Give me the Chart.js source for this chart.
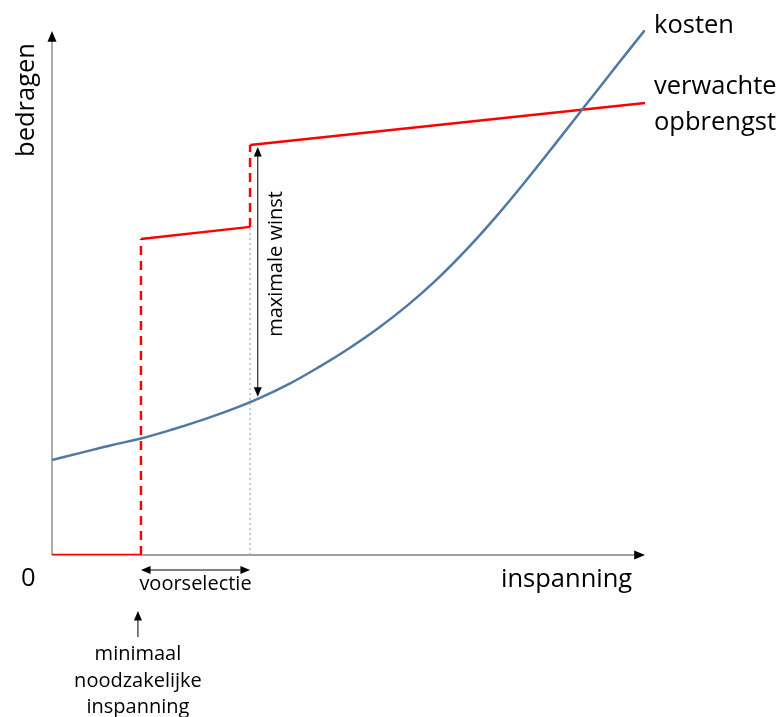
<!DOCTYPE html>
<html>
<head>
<meta charset="utf-8">
<script src="https://cdn.jsdelivr.net/npm/chart.js@4/dist/chart.umd.min.js"></script>
<style>
  html, body { margin: 0; padding: 0; background: #fff; }
  #wrap { width: 781px; height: 717px; }
</style>
</head>
<body>
<div id="wrap"><canvas id="chart"></canvas></div>
<script>
// kosten curve (effort -> cost)
const kostenX = [0, 5, 10, 15, 20, 25, 30, 35, 40, 45, 50, 55, 60, 65, 70, 75, 80, 85, 90, 95, 100];
const kostenY = [18.1, 19.5, 20.9, 22.2, 23.8, 25.6, 27.6, 29.9, 32.6, 35.8, 39.3, 43.2, 47.6, 52.6, 58.3, 64.6, 71.4, 78.5, 85.7, 92.9, 100];

// verwachte opbrengst: step-wise line
const opbrengstX = [0, 15, 15, 33.4, 33.4, 100];
const opbrengstY = [0, 0, 60.2, 62.5, 78.1, 86.1];

// points of interest on the effort axis
const minimaalX = 15;
const optimumX = 33.4;

const font = '"Open Sans", "Noto Sans", sans-serif';

function head(ctx, x, y, dir, size) {
    const s = size || 8;
    ctx.beginPath();
    if (dir === 'up') { ctx.moveTo(x, y); ctx.lineTo(x - s / 2, y + s * 1.2); ctx.lineTo(x + s / 2, y + s * 1.2); }
    if (dir === 'down') { ctx.moveTo(x, y); ctx.lineTo(x - s / 2, y - s * 1.2); ctx.lineTo(x + s / 2, y - s * 1.2); }
    if (dir === 'right') { ctx.moveTo(x, y); ctx.lineTo(x - s * 1.2, y - s / 2); ctx.lineTo(x - s * 1.2, y + s / 2); }
    if (dir === 'left') { ctx.moveTo(x, y); ctx.lineTo(x + s * 1.2, y - s / 2); ctx.lineTo(x + s * 1.2, y + s / 2); }
    ctx.closePath();
    ctx.fill();
}

function line(ctx, x1, y1, x2, y2) {
    ctx.beginPath();
    ctx.moveTo(x1, y1);
    ctx.lineTo(x2, y2);
    ctx.stroke();
}

function costAt(x) {
    for (let i = 1; i < kostenX.length; i++) {
        if (x <= kostenX[i]) {
            const t = (x - kostenX[i - 1]) / (kostenX[i] - kostenX[i - 1]);
            return kostenY[i - 1] + t * (kostenY[i] - kostenY[i - 1]);
        }
    }
    return kostenY[kostenY.length - 1];
}

const axesPlugin = {
    id: 'axes',
    beforeDatasetsDraw(chart) {
        const ctx = chart.ctx;
        const xs = chart.scales.x, ys = chart.scales.y;
        const x0 = xs.getPixelForValue(0), y0 = ys.getPixelForValue(0);
        const xEnd = xs.getPixelForValue(100), yEnd = ys.getPixelForValue(100);
        ctx.save();
        ctx.strokeStyle = '#7f7f7f';
        ctx.fillStyle = '#000';
        ctx.lineWidth = 1.3;
        line(ctx, x0, y0, x0, yEnd + 8);
        head(ctx, x0, yEnd + 1, 'up', 9);
        line(ctx, x0, y0, xEnd - 8, y0);
        head(ctx, xEnd, y0, 'right', 9);
        ctx.restore();
    },
    afterDatasetsDraw(chart) {
        const ctx = chart.ctx;
        const xs = chart.scales.x, ys = chart.scales.y;
        const y0 = ys.getPixelForValue(0);
        const xm = xs.getPixelForValue(minimaalX);
        const xo = xs.getPixelForValue(optimumX);
        ctx.save();
        ctx.strokeStyle = '#000';
        ctx.fillStyle = '#000';
        ctx.lineWidth = 1;

        // maximale winst arrow
        const xw = xs.getPixelForValue(optimumX + 1.3);
        const yTop = ys.getPixelForValue(opbrengstY[4]) + 2;
        const yBot = ys.getPixelForValue(costAt(optimumX + 1.3)) - 2;
        line(ctx, xw, yTop + 8, xw, yBot - 8);
        head(ctx, xw, yTop, 'up', 8);
        head(ctx, xw, yBot, 'down', 8);

        // voorselectie arrow
        const yv = y0 + 15;
        line(ctx, xm + 8, yv, xo - 8, yv);
        head(ctx, xm, yv, 'left', 8);
        head(ctx, xo, yv, 'right', 8);

        // minimaal arrow
        const xa = xm - 3;
        line(ctx, xa, y0 + 82, xa, y0 + 62);
        head(ctx, xa, y0 + 56, 'up', 8);

        // texts
        ctx.fillStyle = '#000';
        ctx.textBaseline = 'middle';
        ctx.textAlign = 'left';
        ctx.font = '25.5px ' + font;
        ctx.fillText('kosten', 654, 26);
        ctx.fillText('verwachte', 654, 87);
        ctx.fillText('opbrengst', 654, 123);
        ctx.fillText('inspanning', 501, 580);
        ctx.fillText('0', 21, 579);

        ctx.save();
        ctx.translate(27, 100);
        ctx.rotate(-Math.PI / 2);
        ctx.textAlign = 'center';
        ctx.fillText('bedragen', 0, 0);
        ctx.restore();

        ctx.font = '20px ' + font;
        ctx.textAlign = 'center';
        ctx.textBaseline = 'alphabetic';
        ctx.fillText('voorselectie', (xm + xo) / 2, y0 + 35);
        ctx.textBaseline = 'middle';
        ctx.fillText('minimaal', xa, y0 + 99);
        ctx.fillText('noodzakelijke', xa, y0 + 126);
        ctx.fillText('inspanning', xa, y0 + 152);

        ctx.save();
        ctx.translate(xw + 19, 264);
        ctx.rotate(-Math.PI / 2);
        ctx.fillText('maximale winst', 0, 0);
        ctx.restore();

        ctx.restore();
    }
};

new Chart(document.getElementById('chart'), {
    type: 'scatter',
    data: {
        datasets: [
            {
                label: 'optimum',
                data: [{ x: optimumX, y: 0 }, { x: optimumX, y: opbrengstY[3] }],
                showLine: true,
                borderColor: '#9a9a9a',
                borderWidth: 1,
                borderDash: [2, 3],
                pointRadius: 0
            },
            {
                label: 'kosten',
                data: kostenX.map((x, i) => ({ x: x, y: kostenY[i] })),
                showLine: true,
                borderColor: '#4f79a5',
                borderWidth: 2.5,
                tension: 0.4,
                pointRadius: 0
            },
            {
                label: 'verwachte opbrengst',
                data: opbrengstX.map((x, i) => ({ x: x, y: opbrengstY[i] })),
                showLine: true,
                borderColor: '#ff0000',
                borderWidth: 2.5,
                pointRadius: 0,
                segment: {
                    borderDash: c => c.p0.parsed.x === c.p1.parsed.x ? [9, 6] : undefined
                }
            }
        ]
    },
    options: {
        responsive: true,
        maintainAspectRatio: false,
        animation: false,
        layout: { padding: { left: 52, right: 136, top: 30, bottom: 162 } },
        plugins: { legend: { display: false }, tooltip: { enabled: false } },
        scales: {
            x: { type: 'linear', min: 0, max: 100, display: false },
            y: { type: 'linear', min: 0, max: 100, display: false }
        }
    },
    plugins: [axesPlugin]
});
</script>
</body>
</html>
